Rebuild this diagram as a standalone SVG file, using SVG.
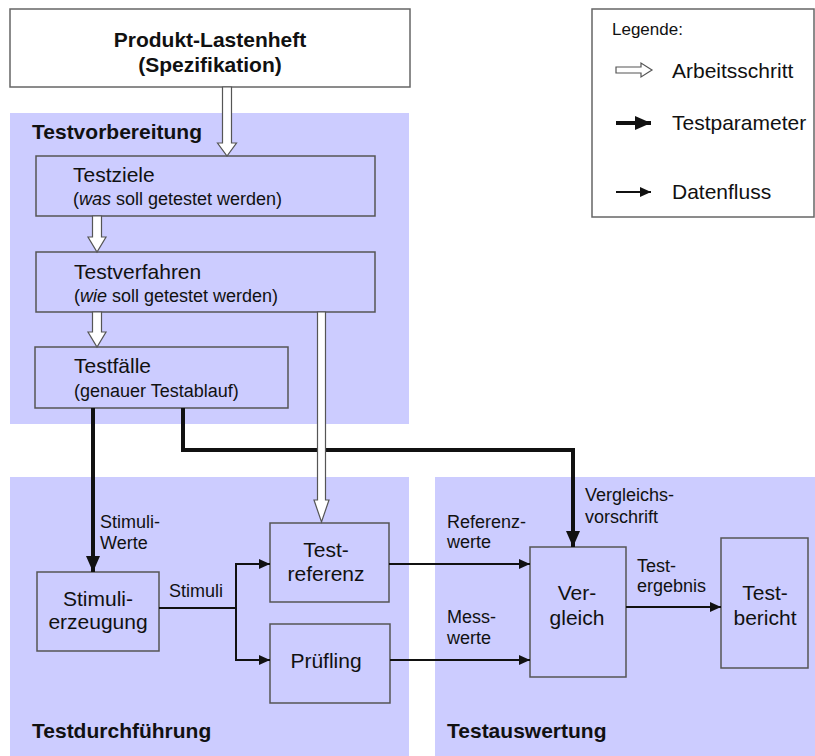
<svg xmlns="http://www.w3.org/2000/svg" width="815" height="756" viewBox="0 0 815 756">
<style>
text{font-family:"Liberation Sans",Arial,sans-serif;fill:#111}
.panel{fill:#ccccff}
.box{fill:#ccccff;stroke:#555;stroke-width:1.5}
.wbox{fill:#fff;stroke:#666;stroke-width:1.5}
.ptitle{font-size:21px;font-weight:bold}
.big{font-size:21px}
.sub{font-size:18px}
.lbl{font-size:18px}
.c{text-anchor:middle}
.thick{fill:none;stroke:#111;stroke-width:4}
.thin{fill:none;stroke:#111;stroke-width:2}
.hollow{fill:#fff;stroke:#555;stroke-width:1.2}
</style>
<defs>
<marker id="ah-thick" markerUnits="userSpaceOnUse" markerWidth="16" markerHeight="14" refX="16" refY="7" orient="auto"><path d="M0,0 L16,7 L0,14 z" fill="#111"/></marker>
<marker id="ah-thin" markerUnits="userSpaceOnUse" markerWidth="11" markerHeight="10" refX="11" refY="5" orient="auto"><path d="M0,0 L11,5 L0,10 z" fill="#111"/></marker>
</defs>

<!-- panels -->
<g id="panel-testvorbereitung">
<rect class="panel" x="10" y="113" width="399" height="311"/>
<text class="ptitle" x="32" y="139">Testvorbereitung</text>
</g>
<g id="panel-testdurchfuehrung">
<rect class="panel" x="10" y="477" width="399" height="279"/>
<text class="ptitle" x="32" y="738">Testdurchführung</text>
</g>
<g id="panel-testauswertung">
<rect class="panel" x="435" y="477" width="380" height="279"/>
<text class="ptitle" x="447" y="738">Testauswertung</text>
</g>

<!-- nodes -->
<g id="lastenheft">
<rect class="wbox" x="10" y="9" width="400" height="78"/>
<text class="ptitle c" x="210" y="47">Produkt-Lastenheft</text>
<text class="ptitle c" x="210" y="72">(Spezifikation)</text>
</g>
<g id="testziele">
<rect class="box" x="36" y="156" width="339" height="60"/>
<text class="big" x="73" y="182">Testziele</text>
<text class="sub" x="73" y="205">(<tspan font-style="italic">was</tspan> soll getestet werden)</text>
</g>
<g id="testverfahren">
<rect class="box" x="36" y="252" width="339" height="60"/>
<text class="big" x="74" y="279">Testverfahren</text>
<text class="sub" x="74" y="302">(<tspan font-style="italic">wie</tspan> soll getestet werden)</text>
</g>
<g id="testfaelle">
<rect class="box" x="35" y="347" width="253" height="61"/>
<text class="big" x="74" y="373">Testfälle</text>
<text class="sub" x="74" y="397">(genauer Testablauf)</text>
</g>
<g id="stimulierzeugung">
<rect class="box" x="37" y="572" width="122" height="79"/>
<text class="big c" x="98" y="606">Stimuli-</text>
<text class="big c" x="98" y="629">erzeugung</text>
</g>
<g id="testreferenz">
<rect class="box" x="270" y="523" width="119" height="79"/>
<text class="big c" x="326" y="557">Test-</text>
<text class="big c" x="326" y="581">referenz</text>
</g>
<g id="pruefling">
<rect class="box" x="270" y="624" width="120" height="79"/>
<text class="big c" x="326" y="668">Prüfling</text>
</g>
<g id="vergleich">
<rect class="box" x="530" y="547" width="96" height="130"/>
<text class="big c" x="577" y="600">Ver-</text>
<text class="big c" x="577" y="625">gleich</text>
</g>
<g id="testbericht">
<rect class="box" x="721" y="538" width="87" height="130"/>
<text class="big c" x="765" y="600">Test-</text>
<text class="big c" x="765" y="625">bericht</text>
</g>

<!-- connectors -->
<g id="connectors">
<path class="thick" d="M93,408 V572" marker-end="url(#ah-thick)"/>
<path class="thick" d="M183,408 V450 H573 V547" marker-end="url(#ah-thick)"/>
<polygon class="hollow" points="222.5,87 222.5,143 217.5,143 227,156 236.5,143 231.5,143 231.5,87"/>
<polygon class="hollow" points="92.5,216 92.5,237 88,237 97,252 106,237 101.5,237 101.5,216"/>
<polygon class="hollow" points="92.5,312 92.5,332 88,332 97,347 106,332 101.5,332 101.5,312"/>
<polygon class="hollow" points="317.5,312 317.5,500 314,500 321.5,522 329,500 325.5,500 325.5,312"/>
<path class="thin" d="M159,608 H236"/>
<path class="thin" d="M236,564 V660"/>
<path class="thin" d="M235,564 H270" marker-end="url(#ah-thin)"/>
<path class="thin" d="M235,660 H270" marker-end="url(#ah-thin)"/>
<path class="thin" d="M389,564 H530" marker-end="url(#ah-thin)"/>
<path class="thin" d="M390,660 H530" marker-end="url(#ah-thin)"/>
<path class="thin" d="M626,607 H721" marker-end="url(#ah-thin)"/>
<text class="lbl" x="100" y="528">Stimuli-</text>
<text class="lbl" x="100" y="549">Werte</text>
<text class="lbl" x="169" y="597">Stimuli</text>
<text class="lbl" x="585" y="501">Vergleichs-</text>
<text class="lbl" x="585" y="523">vorschrift</text>
<text class="lbl" x="447" y="528">Referenz-</text>
<text class="lbl" x="447" y="548">werte</text>
<text class="lbl" x="447" y="623">Mess-</text>
<text class="lbl" x="447" y="644">werte</text>
<text class="lbl" x="637" y="572">Test-</text>
<text class="lbl" x="637" y="592">ergebnis</text>
</g>

<!-- legend -->
<g id="legende">
<rect class="wbox" x="592" y="9" width="222" height="208"/>
<text x="612" y="35" style="font-size:17px">Legende:</text>
<polygon class="hollow" points="616,67 641,67 641,63 652,70 641,77 641,73 616,73"/>
<text class="big" x="672" y="78">Arbeitsschritt</text>
<path class="thick" d="M616,123 H651" marker-end="url(#ah-thick)"/>
<text class="big" x="672" y="130">Testparameter</text>
<path class="thin" d="M616,192 H651" marker-end="url(#ah-thin)"/>
<text class="big" x="672" y="199">Datenfluss</text>
</g>
</svg>
